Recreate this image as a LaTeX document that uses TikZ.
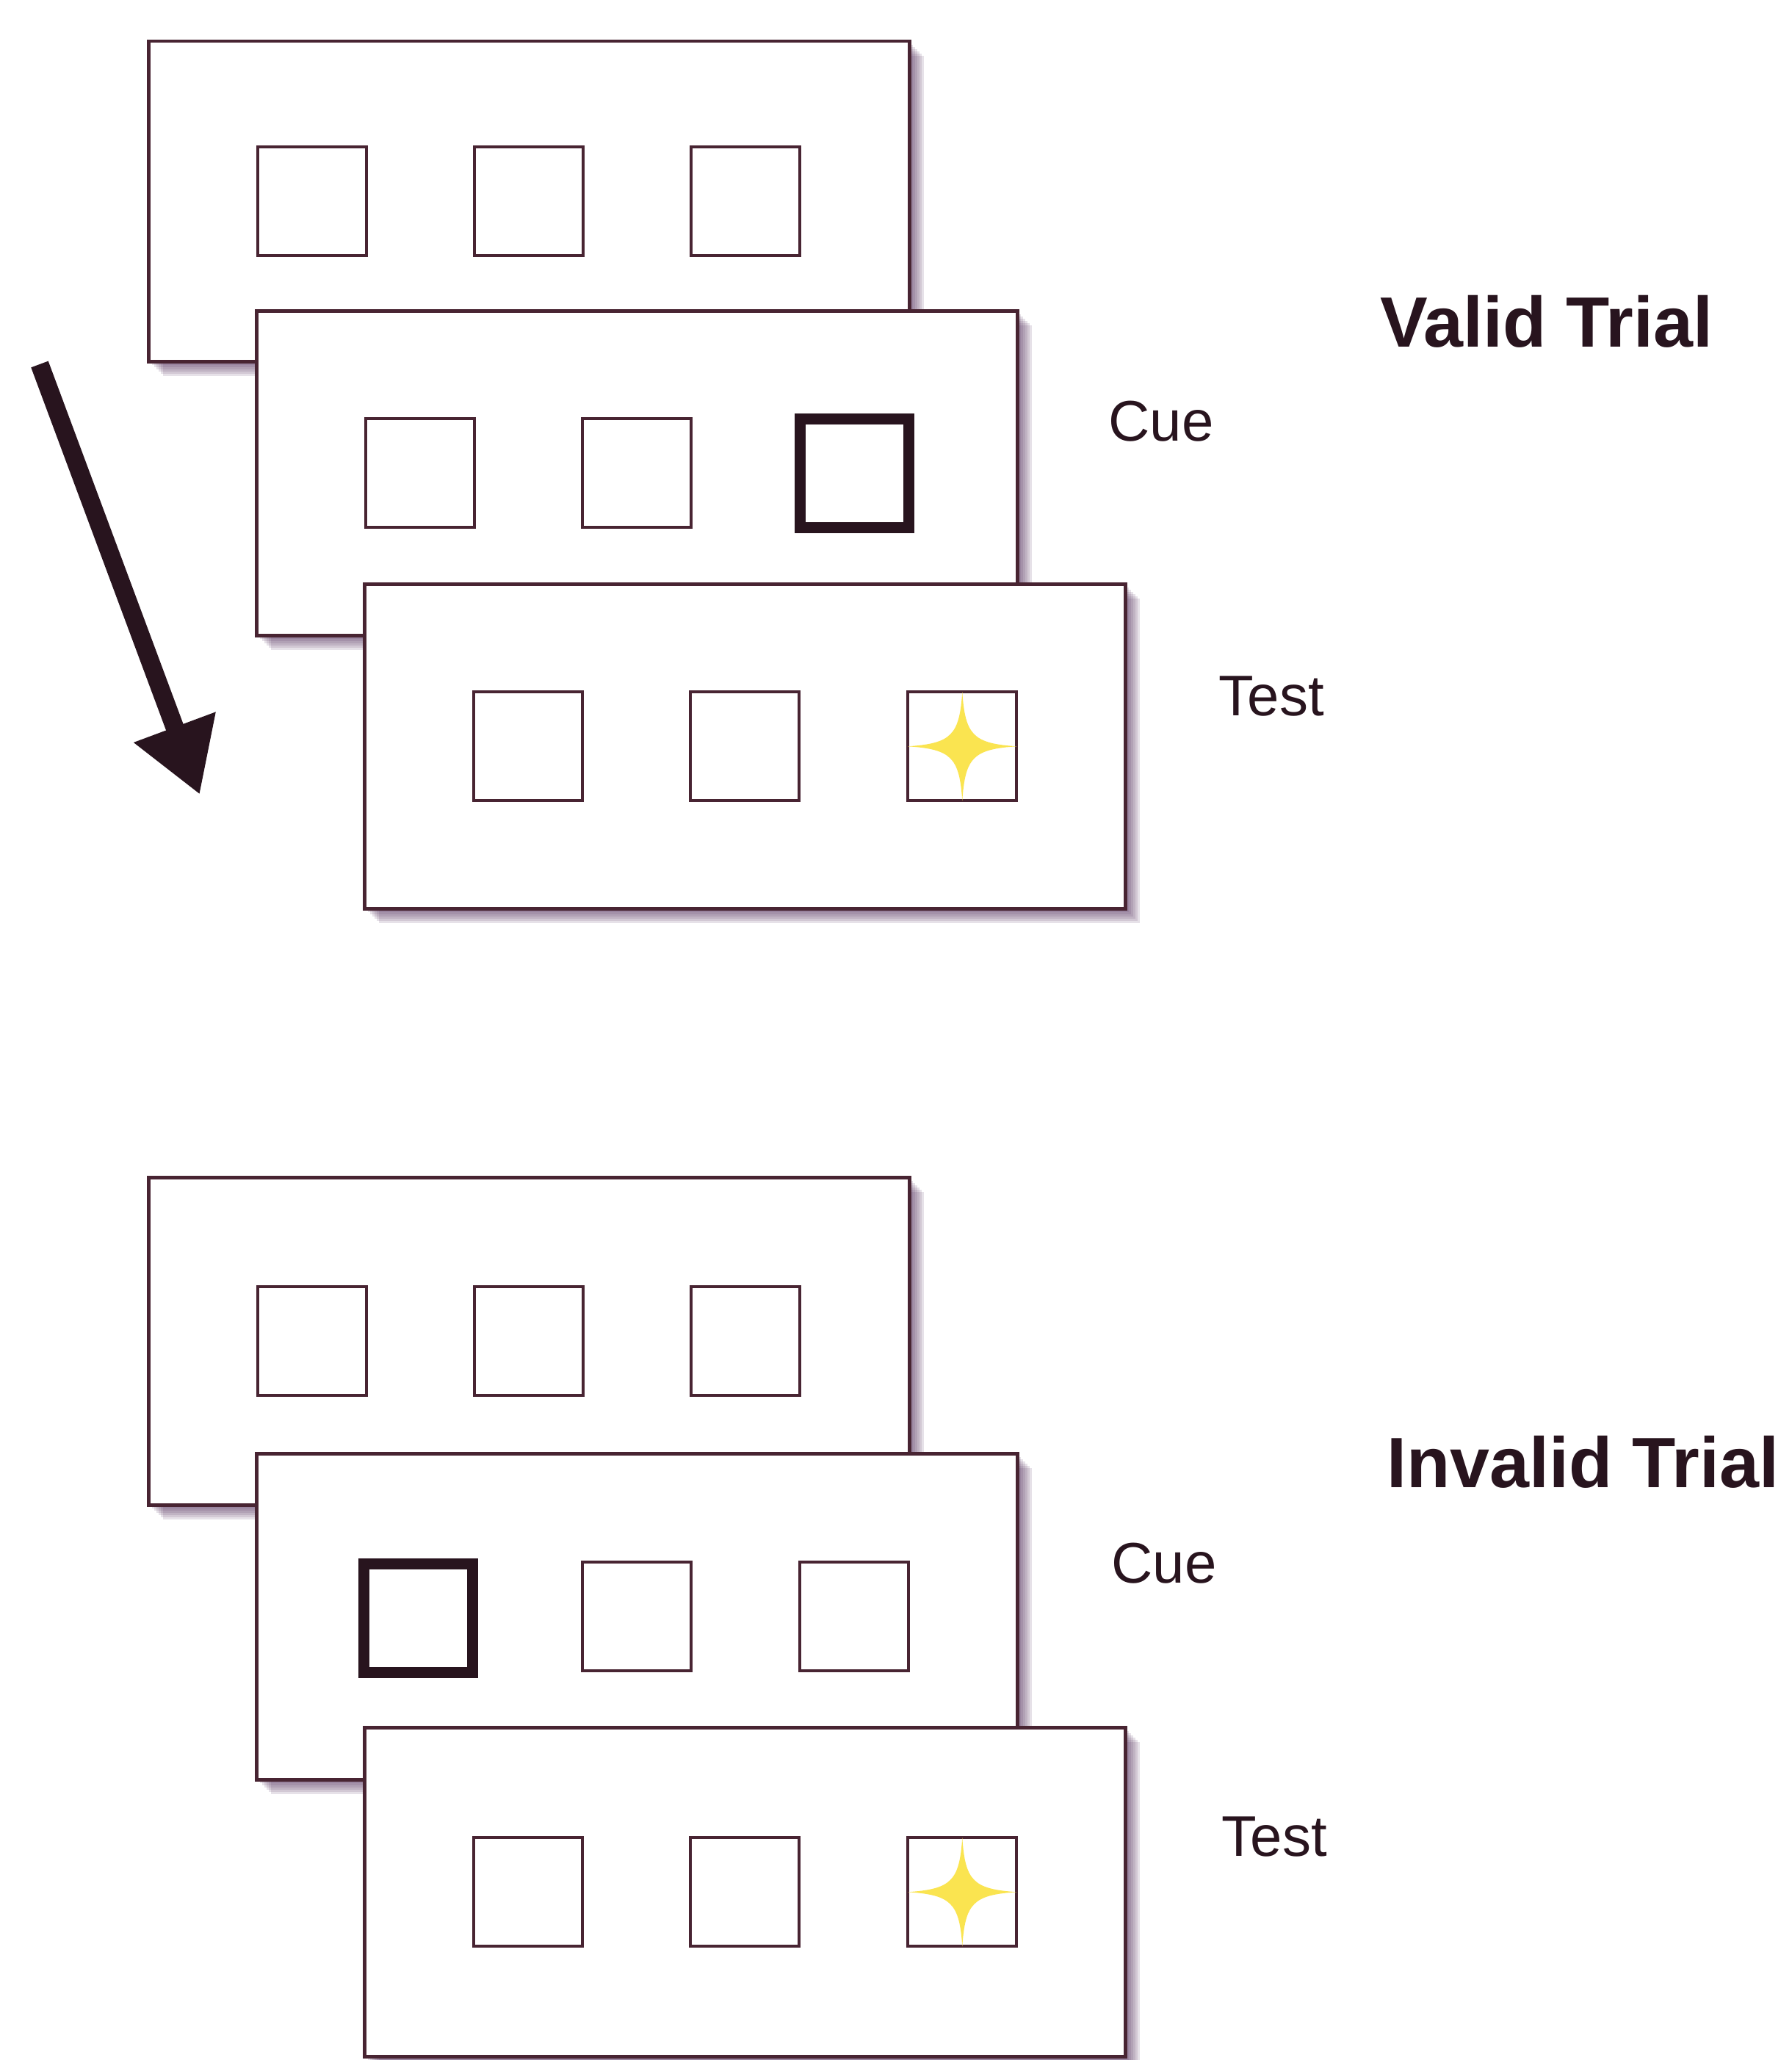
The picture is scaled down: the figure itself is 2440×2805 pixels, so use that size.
\documentclass[tikz,border=0pt]{standalone}
\usepackage{fontspec}
\setmainfont{Liberation Sans}
\usetikzlibrary{arrows.meta}

\definecolor{ink}{RGB}{40,20,30}
\definecolor{frame}{RGB}{72,36,50}
\definecolor{shade}{RGB}{90,56,100}
\definecolor{starfill}{RGB}{250,228,80}

\tikzset{
  % one layer of the soft drop shadow, offset down and to the right
  shadowstep/.style={preaction={draw=none, fill=shade, fill opacity=0.15,
    transform canvas={shift={(#1,-#1)}}}},
  panel/.style={rectangle, draw=frame, line width=4.5pt, fill=white,
    inner sep=0pt, anchor=north west, minimum width=1036pt,
    shadowstep=20pt, shadowstep=17pt, shadowstep=14pt, shadowstep=11pt,
    shadowstep=8pt, shadowstep=5pt, shadowstep=3pt},
  slot/.style={rectangle, draw=frame, line width=4pt, inner sep=0pt,
    minimum size=148pt},
  cueslot/.style={slot, draw=ink, line width=15pt},
  steplabel/.style={anchor=base west, text=ink, font=\fontsize{78}{80}\selectfont},
  triallabel/.style={anchor=base west, text=ink, font=\fontsize{97}{100}\selectfont\bfseries},
  flow/.style={draw=ink, line width=25pt,
    -{Triangle[width=112pt,length=98pt]}},
}

% four-pointed target star centred on a named node
\newcommand{\targetstar}[1]{%
  \fill[starfill, shift={(#1.center)}]
    (0,-74) .. controls (4,-15) and (15,-4) .. (74,0)
    .. controls (15,4) and (4,15) .. (0,74)
    .. controls (-4,15) and (-15,4) .. (-74,0)
    .. controls (-15,-4) and (-4,-15) .. cycle;}

\begin{document}
\begin{tikzpicture}[x=1pt, y=-1pt]
  \useasboundingbox (0,0) rectangle (2440,2805);
  \clip (0,0) rectangle (2440,2805);

  % ---------- valid trial ----------
  \node[panel, minimum height=436pt] (vfix) at (200,54) {};
  \node[slot] (vfixA) at ([xshift=-295pt]vfix.center) {};
  \node[slot] (vfixB) at (vfix.center) {};
  \node[slot] (vfixC) at ([xshift=295pt]vfix.center) {};

  \node[panel, minimum height=442pt] (vcue) at (347,421) {};
  \node[slot] (vcueA) at ([xshift=-295pt]vcue.center) {};
  \node[slot] (vcueB) at (vcue.center) {};
  \node[cueslot] (vcueC) at ([xshift=296pt]vcue.center) {};

  \node[panel, minimum height=442pt] (vtest) at (494,793) {};
  \node[slot] (vtestA) at ([xshift=-295pt]vtest.center) {};
  \node[slot] (vtestB) at (vtest.center) {};
  \node[slot] (vtestC) at ([xshift=296pt]vtest.center) {};
  \targetstar{vtestC}

  \node[triallabel] (vtitle) at (1876,472) {Valid Trial};
  \node[steplabel] (vcuelab) at (1506,600) {Cue};
  \node[steplabel] (vtestlab) at (1656,974) {Test};

  % time arrow
  \coordinate (tstart) at (54,496);
  \coordinate (tend) at (272,1082);
  \draw[flow] (tstart) -- (tend);

  % ---------- invalid trial ----------
  \node[panel, minimum height=446pt] (ifix) at (200,1601) {};
  \node[slot] (ifixA) at ([xshift=-295pt]ifix.center) {};
  \node[slot] (ifixB) at (ifix.center) {};
  \node[slot] (ifixC) at ([xshift=295pt]ifix.center) {};

  \node[panel, minimum height=444pt] (icue) at (347,1977) {};
  \node[cueslot] (icueA) at ([xshift=-298pt, yshift=-2pt]icue.center) {};
  \node[slot] (icueB) at (icue.center) {};
  \node[slot] (icueC) at ([xshift=296pt]icue.center) {};

  \node[panel, minimum height=448pt] (itest) at (494,2350) {};
  \node[slot] (itestA) at ([xshift=-295pt]itest.center) {};
  \node[slot] (itestB) at (itest.center) {};
  \node[slot] (itestC) at ([xshift=296pt]itest.center) {};
  \targetstar{itestC}

  \node[triallabel] (ititle) at (1885,2025) {Invalid Trial};
  \node[steplabel] (icuelab) at (1510,2155) {Cue};
  \node[steplabel] (itestlab) at (1660,2527) {Test};
\end{tikzpicture}
\end{document}
